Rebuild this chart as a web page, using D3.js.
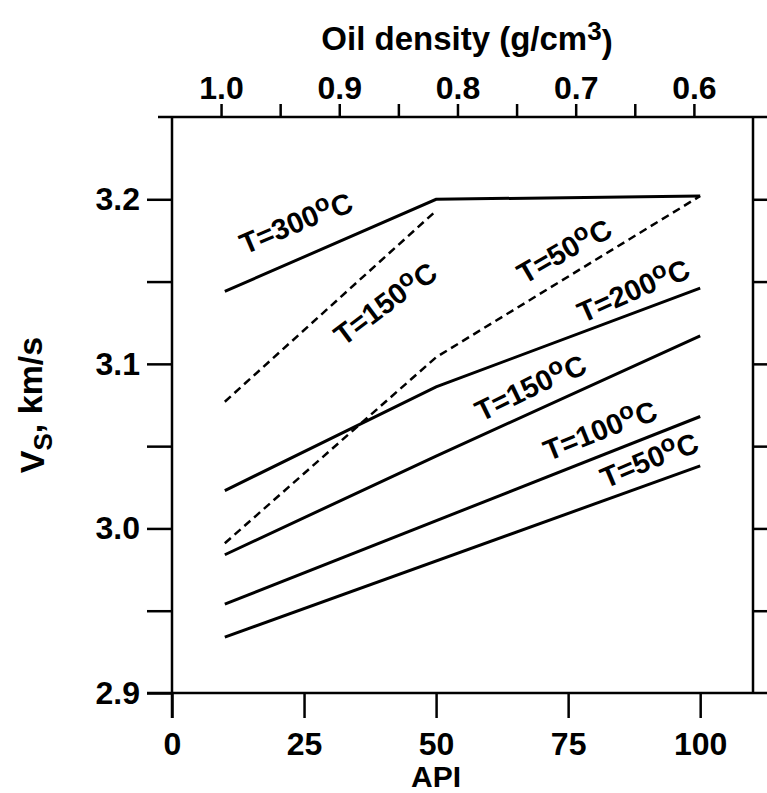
<!DOCTYPE html>
<html>
<head>
<meta charset="utf-8">
<script src="https://cdn.jsdelivr.net/npm/d3@7"></script>
<style>
  body { margin: 0; background: #fff; }
  text { font-family: "Liberation Sans", Arial, sans-serif; font-weight: bold; fill: #000; }
</style>
</head>
<body>
<div id="chart"></div>
<script>
// API gravity values where the curves are read
const apiSeg = [10, 50, 100];
const apiShort = [10, 50];
const apiLine = [10, 100];

// solid curves (Vs, km/s)
const vsT300 = [3.144, 3.200, 3.202];
const vsT200 = [3.023, 3.086, 3.146];
const vsT150 = [2.984, 3.044, 3.117];
const vsT100 = [2.954, 3.068];
const vsT50 = [2.934, 3.038];

// dashed curves
const vsT150d = [3.077, 3.193];
const vsT50d = [2.991, 3.104, 3.202];

// tick values
const apiTicks = [0, 25, 50, 75, 100];
const vsTicks = [2.9, 2.95, 3.0, 3.05, 3.1, 3.15, 3.2];
const densTicks = [1.0, 0.95, 0.9, 0.85, 0.8, 0.75, 0.7, 0.65, 0.6];

const series = [
  { x: apiSeg, y: vsT300, dash: false },
  { x: apiSeg, y: vsT200, dash: false },
  { x: apiSeg, y: vsT150, dash: false },
  { x: apiLine, y: vsT100, dash: false },
  { x: apiLine, y: vsT50, dash: false },
  { x: apiShort, y: vsT150d, dash: true },
  { x: apiSeg, y: vsT50d, dash: true }
];

// curve labels: text, API, Vs, angle
const labels = [
  { t: "300", x: 23.4, y: 3.186, a: -23 },
  { t: "150", x: 40.3, y: 3.137, a: -37 },
  { t: "50", x: 74.2, y: 3.169, a: -30 },
  { t: "200", x: 87.3, y: 3.145, a: -24 },
  { t: "150", x: 67.8, y: 3.086, a: -26 },
  { t: "100", x: 81.0, y: 3.060, a: -22 },
  { t: "50", x: 90.3, y: 3.042, a: -23 }
];

const W = 767, H = 793;
const margin = { top: 117, left: 172, right: 14, bottom: 100 };
const width = W - margin.left - margin.right;
const height = H - margin.top - margin.bottom;

const svg = d3.select("#chart").append("svg")
    .attr("width", W).attr("height", H);
const g = svg.append("g").attr("transform", `translate(${margin.left},${margin.top})`);

const x = d3.scaleLinear().domain([0, 110]).range([0, width]);
const y = d3.scaleLinear().domain([2.9, 3.25]).range([height, 0]);
const xTop = d3.scaleLinear().domain([1.0415, 0.55]).range([0, width]);

// frame lines
const frame = g.append("g").attr("stroke", "#000").attr("stroke-width", 2.5);
frame.append("line").attr("x1", -14).attr("x2", W - margin.left).attr("y1", 0).attr("y2", 0);
frame.append("line").attr("x1", -25).attr("x2", W - margin.left).attr("y1", height).attr("y2", height);
frame.append("line").attr("x1", 0).attr("x2", 0).attr("y1", 0).attr("y2", height + 25);
frame.append("line").attr("x1", width).attr("x2", width).attr("y1", 0).attr("y2", height);

function styleAxis(sel) {
  sel.select(".domain").remove();
  sel.selectAll(".tick line").attr("stroke", "#000").attr("stroke-width", 2.5);
  sel.selectAll(".tick text").style("font-size", "32px");
}

// left axis
g.append("g")
    .call(d3.axisLeft(y).tickValues(vsTicks).tickSize(25).tickPadding(7)
      .tickFormat(d => Math.round(d * 100) % 10 === 0 ? d3.format(".1f")(d) : ""))
    .call(styleAxis);

// right ticks
g.append("g").attr("transform", `translate(${width},0)`)
    .call(d3.axisRight(y).tickValues(vsTicks.filter(v => v > 2.9)).tickSize(20).tickFormat(""))
    .call(styleAxis);

// bottom axis
g.append("g").attr("transform", `translate(0,${height})`)
    .call(d3.axisBottom(x).tickValues(apiTicks).tickSize(25).tickPadding(14))
    .call(styleAxis);

// top axis (oil density)
g.append("g")
    .call(d3.axisTop(xTop).tickValues(densTicks).tickSize(13).tickPadding(5)
      .tickFormat(d => Math.round(d * 100) % 10 === 0 ? d3.format(".1f")(d) : ""))
    .call(styleAxis);

// curves
const line = d3.line().x(d => x(d[0])).y(d => y(d[1]));
g.selectAll("path.curve")
  .data(series)
  .enter().append("path")
    .attr("class", "curve")
    .attr("d", s => line(s.x.map((v, i) => [v, s.y[i]])))
    .attr("fill", "none")
    .attr("stroke", "#000")
    .attr("stroke-width", s => s.dash ? 2.5 : 3)
    .attr("stroke-dasharray", s => s.dash ? "8,5" : null);

// curve labels
const lab = g.selectAll("text.lab")
  .data(labels)
  .enter().append("text")
    .attr("class", "lab")
    .attr("transform", d => `translate(${x(d.x)},${y(d.y)}) rotate(${d.a})`)
    .attr("text-anchor", "middle")
    .attr("dy", "0.35em")
    .style("font-size", "29px");
lab.append("tspan").text(d => "T=" + d.t);
lab.append("tspan").attr("dy", "-0.4em").style("font-size", "24px").text("o");
lab.append("tspan").attr("dy", "0.4em").text("C");

// axis titles
svg.append("text")
    .attr("x", margin.left + x(50)).attr("y", 787)
    .attr("text-anchor", "middle")
    .style("font-size", "30px")
    .text("API");

const topTitle = svg.append("text")
    .attr("x", 467).attr("y", 50)
    .attr("text-anchor", "middle")
    .style("font-size", "33px");
topTitle.append("tspan").text("Oil density (g/cm");
topTitle.append("tspan").attr("dy", "-0.4em").style("font-size", "26px").text("3");
topTitle.append("tspan").attr("dy", "0.4em").text(")");

const yTitle = svg.append("text")
    .attr("transform", `translate(44,405) rotate(-90)`)
    .attr("text-anchor", "middle")
    .style("font-size", "34px");
yTitle.append("tspan").text("V");
yTitle.append("tspan").attr("dy", "0.3em").style("font-size", "26px").text("S");
yTitle.append("tspan").attr("dy", "-0.3em").text(", km/s");
</script>
</body>
</html>
